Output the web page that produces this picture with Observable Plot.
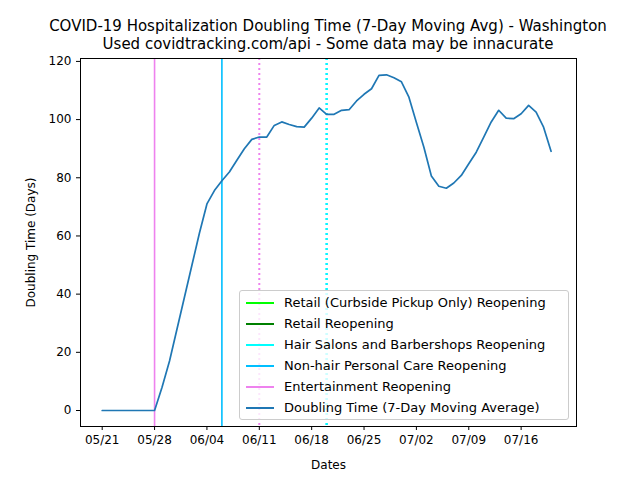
<!DOCTYPE html>
<html><head><meta charset="utf-8">
<script src="https://cdn.jsdelivr.net/npm/d3@7"></script>
<script src="https://cdn.jsdelivr.net/npm/@observablehq/plot@0.6"></script>
<style>
body{margin:0;background:#fff;font-family:"DejaVu Sans",sans-serif}
#wrap{position:relative;width:640px;height:480px}
#title{position:absolute;top:17px;left:0;width:656px;text-align:center;font-size:15px;line-height:18px;color:#000}
#legend{position:absolute;left:239px;top:290px;width:330px;height:130px;box-sizing:border-box;border:1px solid #ccc;border-radius:3px;background:rgba(255,255,255,.8);font-size:13px;padding:1px 6px}
#legend div{height:21px;display:flex;align-items:center}
#legend span.sw{display:inline-block;width:28px;height:0;border-top:2px solid;margin-right:10px}
</style></head><body>
<div id="wrap">
<div id="title">COVID-19 Hospitalization Doubling Time (7-Day Moving Avg) - Washington<br>Used covidtracking.com/api - Some data may be innacurate</div>
<div id="chart"></div>
<div id="legend"></div>
</div>
<script>
// day index 0 = 05/21
const doubling = [0,0,0,0,0,0,0,0,8,17,28,39,50,61,71,75.6,79,82,86,90,93.2,94,94,98,99.2,98.3,97.6,97.4,100.5,104,101.8,101.8,103.2,103.4,106.4,108.7,110.6,115.2,115.4,114.4,113,107.7,99,90.5,80.6,77.1,76.4,78.2,80.8,84.8,88.8,94,99.2,103.2,100.5,100.3,102,104.9,102.6,97.4,89.1];
const tickDays = [0,7,14,21,28,35,42,49,56];
const tickLabels = ["05/21","05/28","06/04","06/11","06/18","06/25","07/02","07/09","07/16"];
const events = [
  {day:7, color:"violet", dash:null},
  {day:16, color:"deepskyblue", dash:null},
  {day:21, color:"violet", dash:"2,3"},
  {day:30, color:"deepskyblue", dash:"2,3"},
  {day:30, color:"cyan", dash:"2,3"}
];
const legendItems = [
  ["Retail (Curbside Pickup Only) Reopening","lime"],
  ["Retail Reopening","green"],
  ["Hair Salons and Barbershops Reopening","cyan"],
  ["Non-hair Personal Care Reopening","deepskyblue"],
  ["Entertainment Reopening","violet"],
  ["Doubling Time (7-Day Moving Average)","#1f77b4"]
];
const series = doubling.map((v,i)=>({day:i,v}));
const plot = Plot.plot({
  width:640, height:480,
  marginLeft:80, marginRight:64, marginTop:58, marginBottom:54,
  style:{fontFamily:"DejaVu Sans",fontSize:"12px",color:"#000",background:"transparent"},
  x:{domain:[-2.9,63.4], ticks:tickDays, tickFormat:d=>tickLabels[tickDays.indexOf(d)], label:"Dates", labelAnchor:"center", labelArrow:"none", labelOffset:42, tickSize:4},
  y:{domain:[-5.5,121], ticks:d3.range(0,121,20), label:"Doubling Time (Days)", labelAnchor:"center", labelArrow:"none", labelOffset:54, tickSize:4},
  marks:[
    ...events.map(e=>Plot.ruleX([e.day],{stroke:e.color,strokeWidth:e.dash?2:1.6,strokeDasharray:e.dash})),
    Plot.line(series,{x:"day",y:"v",stroke:"#1f77b4",strokeWidth:1.7}),
    Plot.frame({stroke:"#000"})
  ]
});
document.getElementById("chart").append(plot);
const lg = document.getElementById("legend");
legendItems.forEach(([t,c])=>{const d=document.createElement("div");d.innerHTML=`<span class="sw" style="border-color:${c}"></span>${t}`;lg.append(d);});
</script>
</body></html>
